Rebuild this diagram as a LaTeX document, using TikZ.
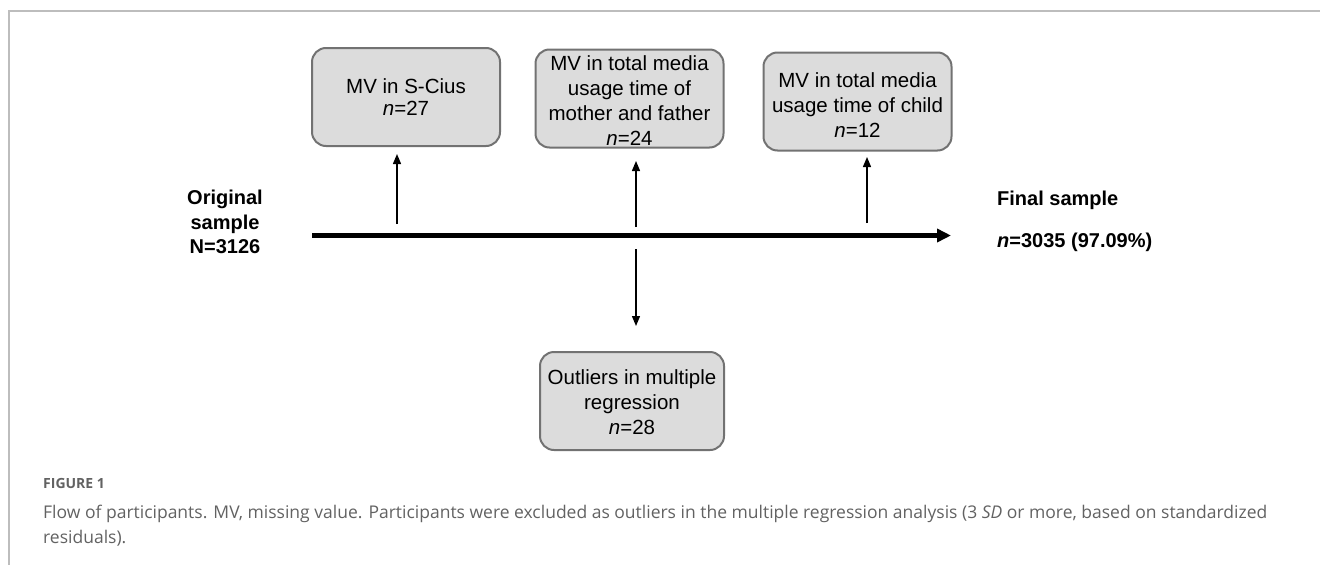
\documentclass[tikz,border=0pt]{standalone}
\usepackage{fontspec}
\setmainfont{Liberation Sans}
\newfontfamily\capfont{Open Sans}
\usetikzlibrary{arrows.meta}
\definecolor{boxfill}{HTML}{DCDCDC}
\definecolor{boxline}{HTML}{727272}
\definecolor{framegray}{HTML}{BDBDBD}
\definecolor{captext}{HTML}{626262}
\begin{document}
\begin{tikzpicture}[x=1pt,y=-1pt,
  exbox/.style={draw=boxline, line width=2pt, fill=boxfill, rounded corners=14pt,
    minimum width=188pt, minimum height=98pt, inner sep=0pt},
  boxtext/.style={align=center, font=\fontsize{20.5}{25}\selectfont, inner sep=0pt},
  sidelabel/.style={font=\fontsize{20}{24.5}\selectfont\bfseries, inner sep=0pt},
  thinarrow/.style={-{Triangle[length=10pt,width=8pt]}, line width=1.3pt},
  mainarrow/.style={-{Triangle[length=14pt,width=13pt]}, line width=4.5pt},
  framestyle/.style={draw=framegray, line width=2pt},
]
\useasboundingbox (0,0) rectangle (1320,565);
% frame
\draw[framestyle] (1320,11) -- (9,11) -- (9,565);

% boxes
\node[exbox] (b1) at (406,97) {};
\node[boxtext, font=\fontsize{20.5}{22}\selectfont] (t1) at (406,97.5) {MV in S-Cius\\\textit{n}=27};
\node[exbox] (b2) at (629.5,98.5) {};
\node[boxtext] (t2) at (629.5,100.5) {MV in total media\\usage time of\\mother and father\\\textit{n}=24};
\node[exbox] (b3) at (857.5,101.5) {};
\node[boxtext] (t3) at (857.5,105) {MV in total media\\usage time of child\\\textit{n}=12};
\node[exbox, minimum width=184pt] (b4) at (632,401) {};
\node[boxtext] (t4) at (632,402) {Outliers in multiple\\regression\\\textit{n}=28};

% side labels
\node[sidelabel, align=center] (orig) at (225,222) {Original\\sample\\N=3126};
\node[sidelabel, anchor=west] (final) at (997,200) {Final sample};
\node[sidelabel, anchor=west] (finaln) at (997,242) {\textit{n}=3035 (97.09\%)};

% main line
\coordinate (mstart) at (312,235.5);
\coordinate (mend) at (951,235.5);
\draw[mainarrow] (mstart) -- (mend);

% exclusion arrows
\coordinate (a1s) at (397,224);
\coordinate (a1e) at (397,154);
\coordinate (a2s) at (636,227);
\coordinate (a2e) at (636,161);
\coordinate (a3s) at (867,223);
\coordinate (a3e) at (867,157);
\coordinate (a4s) at (636,249);
\coordinate (a4e) at (636,326);
\draw[thinarrow] (a1s) -- (a1e);
\draw[thinarrow] (a2s) -- (a2e);
\draw[thinarrow] (a3s) -- (a3e);
\draw[thinarrow] (a4s) -- (a4e);

% caption
\node[anchor=base west, inner sep=0pt, text=captext, font=\capfont\fontsize{14}{16}\selectfont\bfseries] (figlab) at (43,488) {FIGURE 1};
\node[anchor=base west, inner sep=0pt, text=captext, font=\capfont\fontsize{17.5}{25}\selectfont] (cap1) at (43,518)
  {Flow of participants. MV, missing value. Participants were excluded as outliers in the multiple regression analysis (3 \textit{SD} or more, based on standardized};
\node[anchor=base west, inner sep=0pt, text=captext, font=\capfont\fontsize{17.5}{25}\selectfont] (cap2) at (43,543) {residuals).};
\end{tikzpicture}
\end{document}
